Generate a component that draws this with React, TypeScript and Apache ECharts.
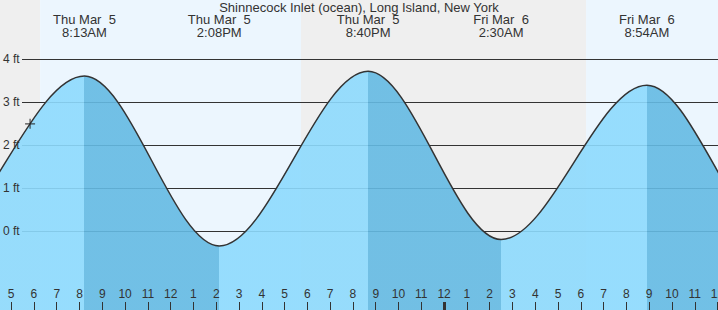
import React, { useEffect, useRef } from 'react';
import * as echarts from 'echarts';

const TITLE = 'Shinnecock Inlet (ocean), Long Island, New York';

// time in hours since Thu Mar 5, 00:00 (first and last two lie outside the view)
const tideHours = [-4.9, 1.4, 8.217, 14.133, 20.667, 26.5, 32.9, 38.78, 45.1];
const tideFeet = [3.5, -0.3, 3.61, -0.34, 3.72, -0.19, 3.4, -0.3, 3.6];

const extremeHours = [8.217, 14.133, 20.667, 26.5, 32.9];
const extremeDay = ['Thu Mar  5', 'Thu Mar  5', 'Thu Mar  5', 'Fri Mar  6', 'Fri Mar  6'];
const extremeTime = ['8:13AM', '2:08PM', '8:40PM', '2:30AM', '8:54AM'];

const hourTicks = [5, 6, 7, 8, 9, 10, 11, 12, 13, 14, 15, 16, 17, 18, 19, 20, 21, 22, 23, 24, 25, 26, 27, 28, 29, 30, 31, 32, 33, 34, 35, 36];
const midnightTicks = [24];
const feetTicks = [0, 1, 2, 3, 4];

// sunrise, sunset, sunrise
const sunHours = [6.27, 17.72, 30.23];
const nowPoint = [5.83, 2.5];

const X_MIN = 4.51;
const X_MAX = 36.02;
const Y_MIN = -1.83;
const Y_MAX = 5.38;

const NIGHT = '#efefef';
const DAY = '#ecf6fe';
const RISE = '#8ddafd';
const FALL = '#64bae3';
const TEXT = '#333';
const FONT = '"Liberation Sans", Arial, Helvetica, sans-serif';

export default function App() {
  const ref = useRef<HTMLDivElement>(null);

  useEffect(() => {
    if (!ref.current) return;
    const chart = echarts.init(ref.current, undefined, { renderer: 'svg' });

    const bandEdges = [X_MIN, ...sunHours, X_MAX];
    const bands = bandEdges.slice(0, -1).map((s, i) => [s, bandEdges[i + 1], i % 2 === 0 ? 0 : 1]);

    const pieces = tideHours.slice(0, -1).map((h, i) => ({
      gte: h,
      lt: tideHours[i + 1],
      color: tideFeet[i + 1] > tideFeet[i] ? RISE : FALL,
    }));

    const hourLabel = (v: number) => {
      const h = Math.round(v) % 12;
      return String(h === 0 ? 12 : h);
    };
    const extremeLabel = (v: number) => {
      const i = extremeHours.findIndex((h) => Math.abs(h - v) < 1e-6);
      return i < 0 ? '' : `${extremeDay[i]}\n${extremeTime[i]}`;
    };

    const baseX = {
      type: 'value',
      min: X_MIN,
      max: X_MAX,
      axisLine: { show: false, onZero: false },
      splitLine: { show: false },
    };

    chart.setOption({
      animation: false,
      textStyle: { fontFamily: FONT },
      title: {
        text: TITLE,
        left: 'center',
        top: 1,
        padding: 0,
        textStyle: { fontSize: 13, fontWeight: 'normal', color: TEXT, fontFamily: FONT },
      },
      grid: [
        { left: 0, right: 0, top: 0, bottom: 0, containLabel: false, outerBoundsMode: 'none' },
        { left: 22, right: 0, top: 0, bottom: 0, containLabel: false, outerBoundsMode: 'none' },
      ],
      visualMap: {
        show: false,
        type: 'piecewise',
        dimension: 0,
        seriesIndex: 0,
        pieces,
      },
      xAxis: [
        {
          ...baseX,
          gridIndex: 0,
          position: 'bottom',
          z: 3,
          axisTick: { show: true, inside: true, length: 8, customValues: hourTicks, lineStyle: { color: TEXT, width: 1 } },
          axisLabel: { inside: true, customValues: hourTicks, formatter: hourLabel, margin: 10, fontSize: 12, color: TEXT, fontFamily: FONT },
        },
        {
          ...baseX,
          gridIndex: 0,
          position: 'top',
          z: 3,
          axisTick: { show: false, customValues: extremeHours },
          axisLabel: { inside: true, customValues: extremeHours, formatter: extremeLabel, margin: 13, fontSize: 13, lineHeight: 13, color: TEXT, fontFamily: FONT },
        },
        {
          ...baseX,
          gridIndex: 0,
          position: 'bottom',
          z: 3,
          axisTick: { show: true, inside: true, length: 8, customValues: midnightTicks, lineStyle: { color: TEXT, width: 3 } },
          axisLabel: { show: false, customValues: midnightTicks },
        },
        {
          ...baseX,
          gridIndex: 1,
          show: false,
        },
      ],
      yAxis: [
        {
          type: 'value',
          gridIndex: 0,
          min: Y_MIN,
          max: Y_MAX,
          z: 3,
          axisLine: { show: false },
          splitLine: { show: false },
          axisTick: { show: false, customValues: feetTicks },
          axisLabel: { inside: true, customValues: feetTicks, formatter: (v: number) => `${v} ft`, margin: 3, fontSize: 12, color: TEXT, fontFamily: FONT },
        },
        {
          type: 'value',
          gridIndex: 1,
          min: Y_MIN,
          max: Y_MAX,
          z: 1,
          axisLine: { show: false },
          axisTick: { show: false, customValues: feetTicks },
          axisLabel: { show: false, customValues: feetTicks },
          splitLine: { show: true, lineStyle: { color: TEXT, width: 1 } },
        },
      ],
      series: [
        {
          type: 'line',
          xAxisIndex: 0,
          yAxisIndex: 0,
          z: 2,
          data: tideHours.map((h, i) => [h, tideFeet[i]]),
          smooth: 0.333,
          smoothMonotone: 'x',
          showSymbol: false,
          silent: true,
          lineStyle: { color: TEXT, width: 1.5 },
          areaStyle: { origin: 'start', opacity: 0.9 },
        },
        {
          type: 'custom',
          xAxisIndex: 0,
          yAxisIndex: 0,
          z: 0,
          silent: true,
          encode: { x: [0, 1] },
          data: bands,
          renderItem: (params: any, api: any) => {
            const p0 = api.coord([api.value(0), Y_MAX]);
            const p1 = api.coord([api.value(1), Y_MIN]);
            return {
              type: 'rect',
              shape: { x: p0[0], y: p0[1], width: p1[0] - p0[0], height: p1[1] - p0[1] },
              style: { fill: api.value(2) ? DAY : NIGHT },
            };
          },
        },
        {
          type: 'scatter',
          xAxisIndex: 0,
          yAxisIndex: 0,
          z: 4,
          silent: true,
          data: [nowPoint],
          symbol: 'path://M0,5H10M5,0V10',
          symbolSize: 10,
          itemStyle: { color: 'none', borderColor: '#222', borderWidth: 1.2 },
        },
      ],
    });

    return () => chart.dispose();
  }, []);

  return <div ref={ref} style={{ position: 'absolute', left: 0, top: 0, width: 718, height: 310 }} />;
}
